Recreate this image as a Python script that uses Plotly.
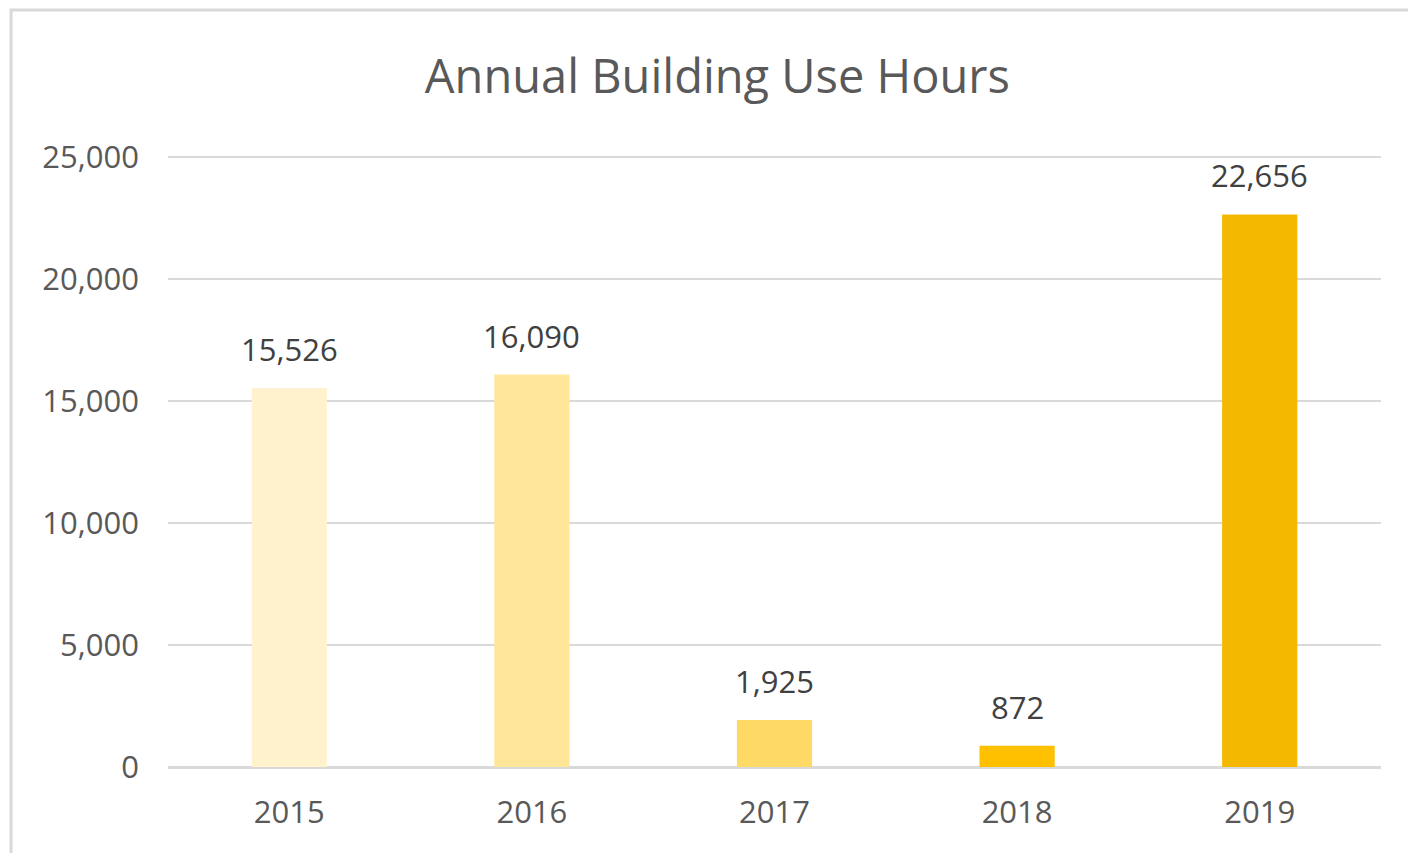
import plotly.graph_objects as go

years = ["2015", "2016", "2017", "2018", "2019"]
hours = [15526, 16090, 1925, 872, 22656]
bar_colors = ["#FFF2CC", "#FFE699", "#FFD966", "#FFC000", "#F5B800"]
y_ticks = [0, 5000, 10000, 15000, 20000, 25000]
y_tick_text = ["0", "5,000", "10,000", "15,000", "20,000", "25,000"]
title_text = "Annual Building Use Hours"

FONT = "Open Sans, Calibri, sans-serif"

fig = go.Figure(
    go.Bar(
        x=years,
        y=hours,
        marker=dict(color=bar_colors, line=dict(width=0)),
        hoverinfo="x+y",
    )
)

# category axis: annotations are placed by category index
annotations = [
    dict(
        x=i,
        y=v,
        xref="x",
        yref="y",
        text=f"{v:,}",
        showarrow=False,
        yanchor="bottom",
        yshift=16,
        font=dict(family=FONT, size=31, color="#404040"),
    )
    for i, v in enumerate(hours)
]

fig.update_layout(
    width=1416,
    height=853,
    paper_bgcolor="white",
    plot_bgcolor="white",
    margin=dict(l=160, r=43, t=148, b=94),
    bargap=0.69,
    showlegend=False,
    annotations=annotations,
    title=dict(
        text=title_text,
        x=0.501,
        xanchor="center",
        y=0.92,
        yanchor="middle",
        font=dict(family=FONT, size=47, color="#595959"),
    ),
    shapes=[
        dict(
            type="rect",
            xref="paper",
            yref="paper",
            x0=-0.1294,
            x1=1.1,
            y0=-0.3,
            y1=1.239,
            line=dict(color="#D9D9D9", width=3),
            fillcolor="rgba(0,0,0,0)",
            layer="below",
        )
    ],
)

fig.update_xaxes(
    type="category",
    categoryorder="array",
    categoryarray=years,
    range=[-0.5, len(years) - 0.5],
    showgrid=False,
    showline=True,
    linecolor="#D9D9D9",
    linewidth=2,
    ticks="",
    tickfont=dict(family=FONT, size=31, color="#595959"),
    ticklabelstandoff=17,
)
fig.update_yaxes(
    range=[0, 25050],
    tickvals=y_ticks,
    ticktext=y_tick_text,
    showgrid=True,
    gridcolor="#D9D9D9",
    gridwidth=2,
    zeroline=True,
    zerolinecolor="#D9D9D9",
    zerolinewidth=2,
    showline=False,
    ticks="",
    tickfont=dict(family=FONT, size=31, color="#595959"),
    ticklabelstandoff=28,
)

fig.write_html("out.html")
